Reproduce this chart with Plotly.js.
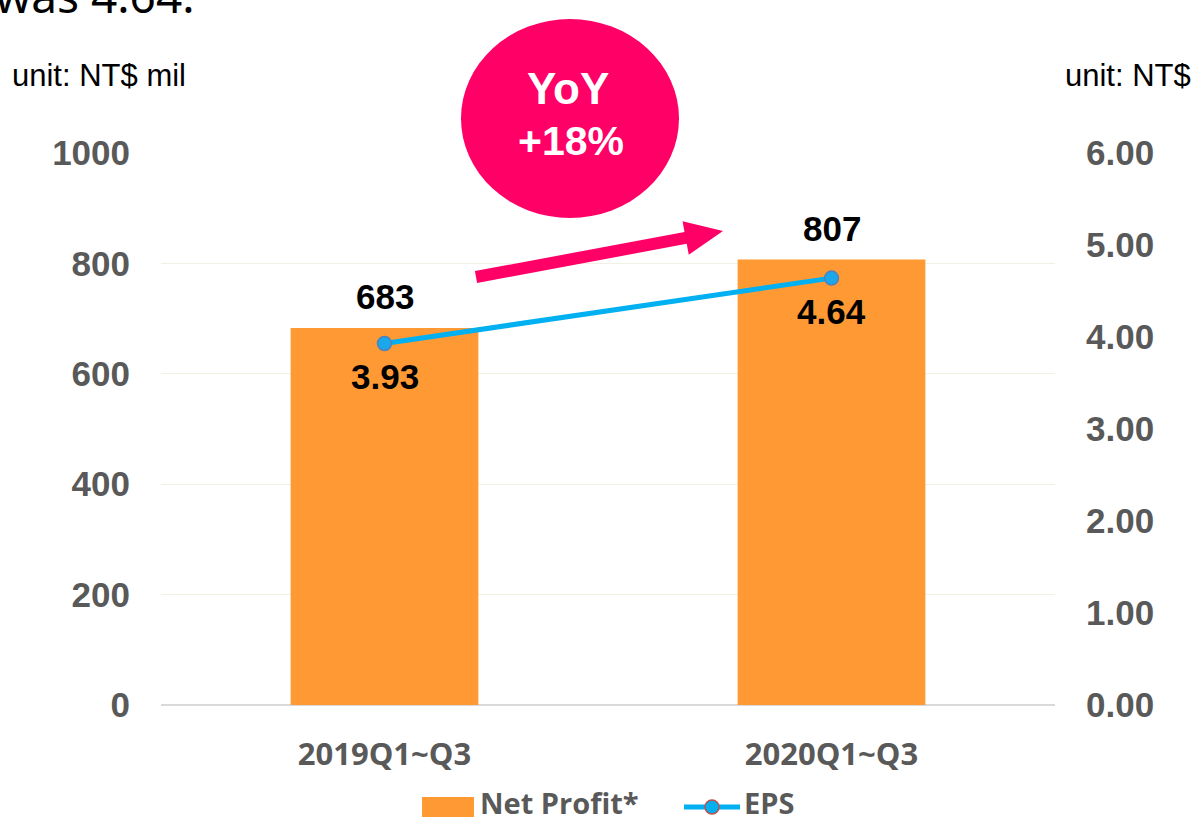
<!DOCTYPE html>
<html>
<head>
<meta charset="utf-8">
<script src="https://cdn.plot.ly/plotly-3.0.1.min.js"></script>
<style>html,body{margin:0;padding:0;background:#fff;}#chart{width:1198px;height:821px;}</style>
</head>
<body>
<div id="chart"></div>
<script>
var categories = ['2019Q1~Q3', '2020Q1~Q3'];
var netProfit = [683, 807];
var eps = [3.93, 4.64];
var netProfitLabels = ['683', '807'];
var epsLabels = ['3.93', '4.64'];
var leftTicks = [0, 200, 400, 600, 800, 1000];
var rightTicks = [0, 1, 2, 3, 4, 5, 6];

var W = 1198, H = 821, L = 161, R = 143, T = 153, B = 116;
var PW = W - L - R, PH = H - T - B;
function px(x) { return (x - L) / PW; }
function py(y) { return (H - B - y) / PH; }

var bars = {
  type: 'bar', x: categories, y: netProfit, name: 'Net Profit*',
  marker: {color: '#FF9933'}, width: 0.42, hoverinfo: 'x+y', showlegend: false
};
var line = {
  type: 'scatter', mode: 'lines+markers', x: categories, y: eps, yaxis: 'y2', name: 'EPS',
  line: {color: '#00B0F0', width: 5},
  marker: {color: '#1AA7EC', size: 14, line: {color: '#4F81BD', width: 1.5}},
  showlegend: false, cliponaxis: false
};

var labelFont = {family: 'Liberation Sans, Arial', size: 35, color: '#000000', weight: 'bold'};
var annotations = [];
categories.forEach(function (c, i) {
  annotations.push({x: c, y: netProfit[i], xref: 'x', yref: 'y', text: netProfitLabels[i],
    showarrow: false, yshift: 31, yanchor: 'middle', font: labelFont});
  annotations.push({x: c, y: eps[i], xref: 'x', yref: 'y2', text: epsLabels[i],
    showarrow: false, yshift: -33, yanchor: 'middle', font: labelFont});
});
// text decorations
annotations.push({xref: 'paper', yref: 'paper', x: px(197), y: py(-5), xanchor: 'right', yanchor: 'middle',
  text: 'was 4.64.', showarrow: false, font: {family: 'Noto Sans', size: 46, color: '#000000'}});
annotations.push({xref: 'paper', yref: 'paper', x: px(10), y: py(76), xanchor: 'left', yanchor: 'middle',
  text: 'unit: NT$ mil', showarrow: false, font: {family: 'Liberation Sans, Arial', size: 31, color: '#000000'}});
annotations.push({xref: 'paper', yref: 'paper', x: px(1063), y: py(76), xanchor: 'left', yanchor: 'middle',
  text: 'unit: NT$', showarrow: false, font: {family: 'Liberation Sans, Arial', size: 31, color: '#000000'}});
annotations.push({xref: 'paper', yref: 'paper', x: px(568), y: py(88), xanchor: 'center', yanchor: 'middle',
  text: 'YoY', showarrow: false, font: {family: 'Liberation Sans, Arial', size: 44, color: '#FFFFFF', weight: 'bold'}});
annotations.push({xref: 'paper', yref: 'paper', x: px(571), y: py(141), xanchor: 'center', yanchor: 'middle',
  text: '+18%', showarrow: false, font: {family: 'Liberation Sans, Arial', size: 41, color: '#FFFFFF', weight: 'bold'}});
// legend texts
var legendFont = {family: 'Open Sans', size: 29, color: '#595959', weight: 'bold'};
annotations.push({xref: 'paper', yref: 'paper', x: px(478), y: py(802), xanchor: 'left', yanchor: 'middle',
  text: 'Net Profit*', showarrow: false, font: legendFont});
annotations.push({xref: 'paper', yref: 'paper', x: px(742), y: py(802), xanchor: 'left', yanchor: 'middle',
  text: 'EPS', showarrow: false, font: legendFont});

// arrow polygon
var tail = [476, 277], tip = [723, 231];
var dx = tip[0] - tail[0], dy = tip[1] - tail[1], len = Math.sqrt(dx * dx + dy * dy);
var ux = dx / len, uy = dy / len, nx = -uy, ny = ux;
var headLen = 38, sw = 6, hw = 17;
var bx = tip[0] - headLen * ux, by = tip[1] - headLen * uy;
var pts = [
  [tail[0] - sw * nx, tail[1] - sw * ny], [bx - sw * nx, by - sw * ny], [bx - hw * nx, by - hw * ny],
  tip, [bx + hw * nx, by + hw * ny], [bx + sw * nx, by + sw * ny], [tail[0] + sw * nx, tail[1] + sw * ny]
];
var path = pts.map(function (p, i) { return (i ? 'L' : 'M') + px(p[0]).toFixed(5) + ',' + py(p[1]).toFixed(5); }).join(' ') + ' Z';

var shapes = [
  {type: 'circle', xref: 'paper', yref: 'paper', x0: px(461), x1: px(679), y0: py(218), y1: py(19),
    fillcolor: '#FF0066', line: {width: 0}},
  {type: 'path', xref: 'paper', yref: 'paper', path: path, fillcolor: '#FF0066', line: {width: 0}},
  // legend swatches
  {type: 'rect', xref: 'paper', yref: 'paper', x0: px(422), x1: px(474), y0: py(817), y1: py(797),
    fillcolor: '#FF9933', line: {width: 0}},
  {type: 'line', xref: 'paper', yref: 'paper', x0: px(684), x1: px(740), y0: py(807), y1: py(807),
    line: {color: '#00B0F0', width: 5}},
  {type: 'circle', xref: 'paper', yref: 'paper', x0: px(705), x1: px(719), y0: py(814), y1: py(800),
    fillcolor: '#00B0F0', line: {color: '#C0504D', width: 1.5}}
];

var tickFont = {family: 'Liberation Sans, Arial', size: 35, color: '#595959', weight: 'bold'};
var layout = {
  width: W, height: H,
  margin: {l: L, r: R, t: T, b: B, pad: 0},
  paper_bgcolor: '#FFFFFF', plot_bgcolor: '#FFFFFF',
  showlegend: false,
  bargap: 0.58,
  xaxis: {
    type: 'category', categoryarray: categories, range: [-0.5, 1.5],
    showgrid: false, showline: false, zeroline: false, ticks: '',
    ticklabelstandoff: 28,
    tickfont: {family: 'Open Sans', size: 31, color: '#595959', weight: 'bold'}
  },
  yaxis: {
    range: [0, 1000], tickvals: leftTicks, ticktext: leftTicks.map(String),
    showgrid: true, gridcolor: '#EFF2E3', gridwidth: 1,
    zeroline: true, zerolinecolor: '#D9D9D9', zerolinewidth: 2,
    showline: false, ticks: '', ticklabelstandoff: 30,
    tickfont: tickFont
  },
  yaxis2: {
    overlaying: 'y', side: 'right', range: [0, 6], tickvals: rightTicks,
    ticktext: rightTicks.map(function (v) { return v.toFixed(2); }),
    showgrid: false, zeroline: false, showline: false, ticks: '', ticklabelstandoff: 30,
    tickfont: tickFont
  },
  annotations: annotations,
  shapes: shapes
};

Plotly.newPlot('chart', [bars, line], layout, {displayModeBar: false, staticPlot: true});
</script>
</body>
</html>
